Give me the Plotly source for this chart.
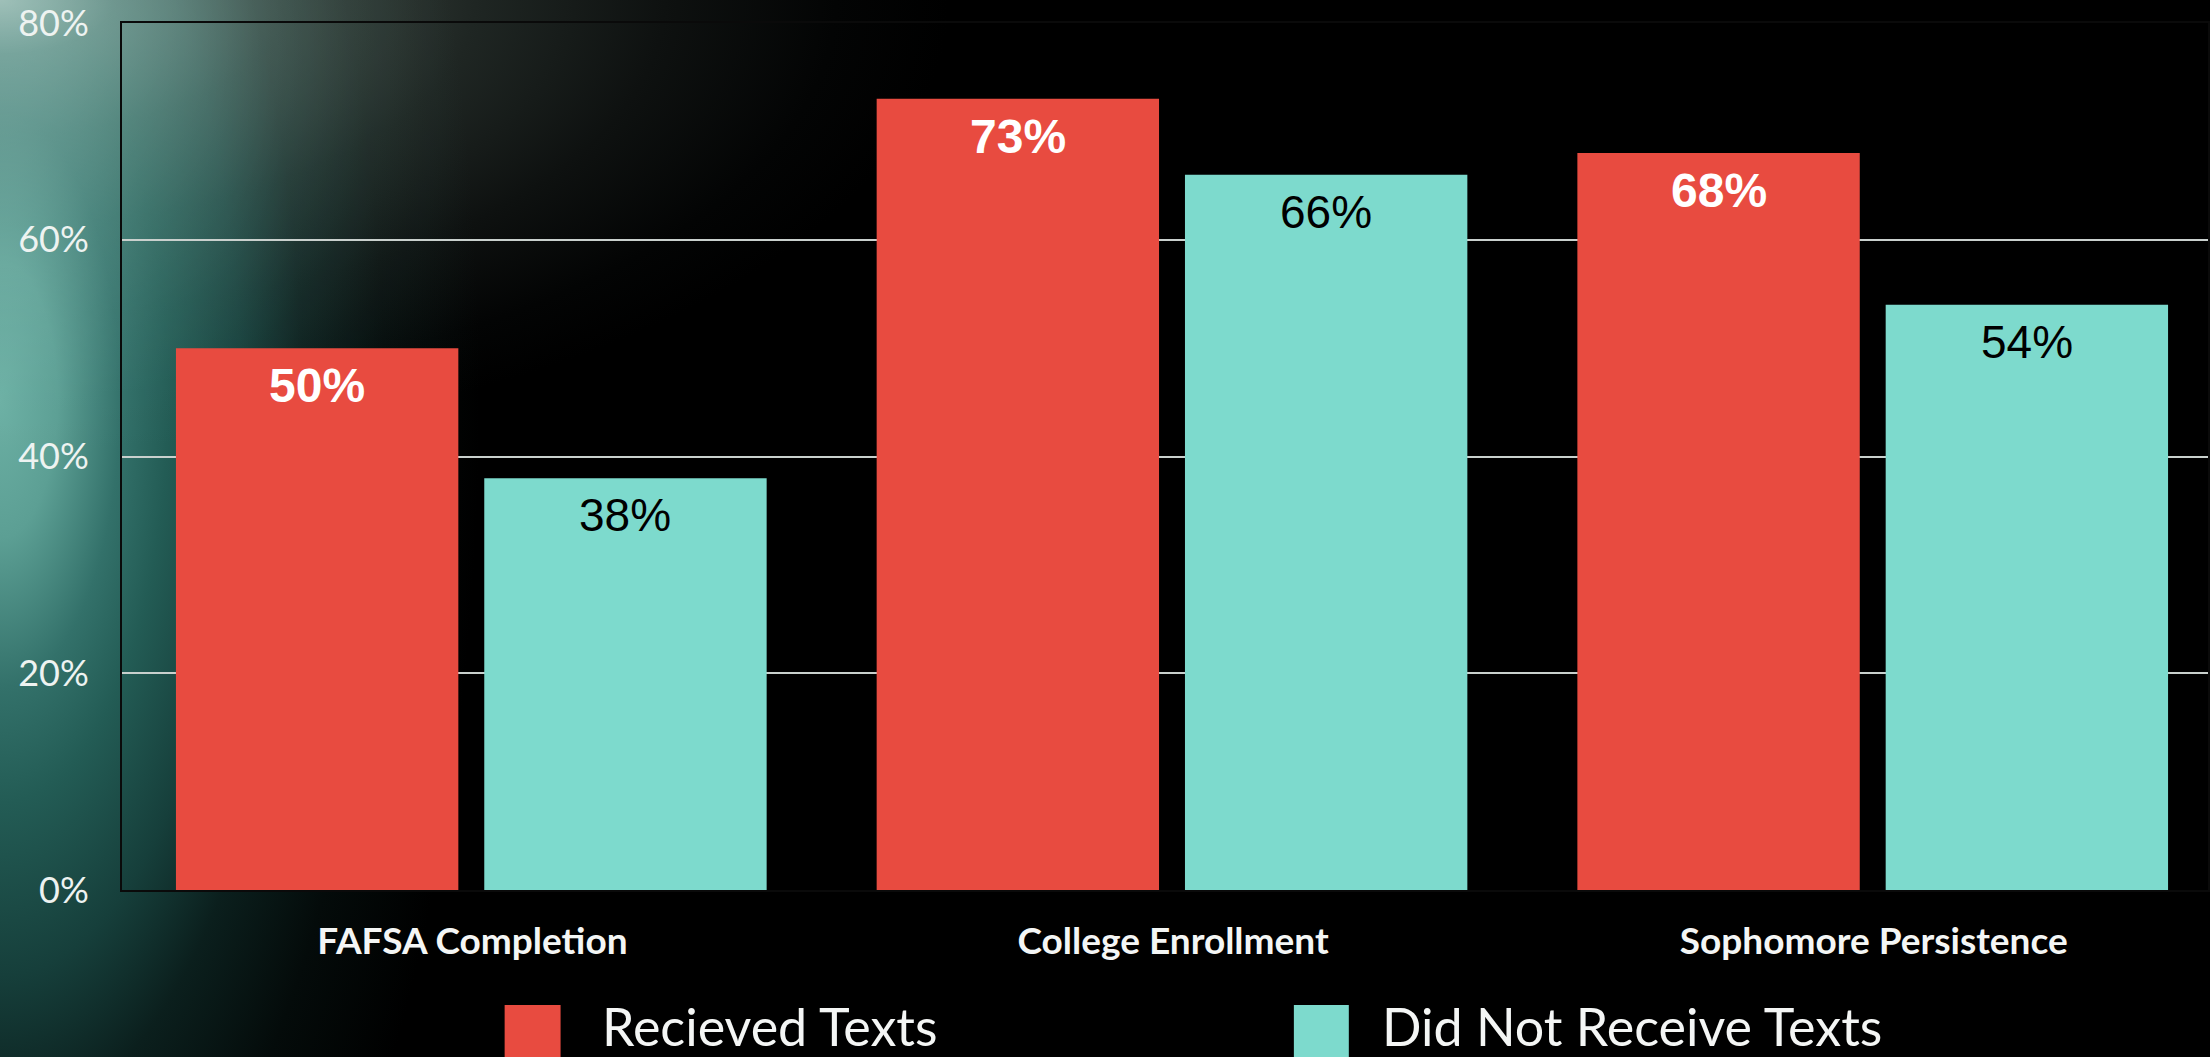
import base64
import plotly.graph_objects as go

# ---- data ----
categories = ["FAFSA Completion", "College Enrollment", "Sophomore Persistence"]
received = [50, 73, 68]
not_received = [38, 66, 54]
series_names = ["Recieved Texts", "Did Not Receive Texts"]
series_colors = ["#e84b40", "#7ddacd"]
y_ticks = [0, 20, 40, 60, 80]
y_tick_labels = ["0%", "20%", "40%", "60%", "80%"]

# ---- page geometry (pixels) ----
W, H = 2210, 1057
ML, MR, MT, MB = 122, 0, 23, 167
PW, PH = W - ML - MR, H - MT - MB
X_RANGE = [-0.5, 2.477]


def px_x(px):
    return (px - ML) / PW


def px_y(py):
    return (H - MB - py) / PH


# ---- backdrop: teal glow on the left edge, grey haze in the top-left corner ----
svg = f"""<svg xmlns='http://www.w3.org/2000/svg' width='{W}' height='{H}' viewBox='0 0 {W} {H}'>
<defs>
<radialGradient id='teal'>
<stop offset='0' stop-color='#6cb0a4'/>
<stop offset='0.12' stop-color='#5c9f94'/>
<stop offset='0.25' stop-color='#33716a'/>
<stop offset='0.35' stop-color='#235c55'/>
<stop offset='0.5' stop-color='#163f3b'/>
<stop offset='0.63' stop-color='#0b1f1d'/>
<stop offset='0.8' stop-color='#040b0a'/>
<stop offset='1' stop-color='#000000'/>
</radialGradient>
<radialGradient id='grey'>
<stop offset='0' stop-color='#8f9c95'/>
<stop offset='0.12' stop-color='#5c6862'/>
<stop offset='0.3' stop-color='#3a443f'/>
<stop offset='0.5' stop-color='#1f2623'/>
<stop offset='0.7' stop-color='#0e1110'/>
<stop offset='0.88' stop-color='#030404'/>
<stop offset='1' stop-color='#000000'/>
</radialGradient>
</defs>
<rect width='{W}' height='{H}' fill='#000000'/>
<ellipse cx='0' cy='400' rx='480' ry='1150' fill='url(#teal)'/>
<ellipse cx='0' cy='0' rx='950' ry='450' fill='url(#grey)' style='mix-blend-mode:screen'/>
</svg>"""
bg_uri = "data:image/svg+xml;base64," + base64.b64encode(svg.encode()).decode()

fig = go.Figure()

bar_width = 0.403
offsets = [-0.423, 0.017]
values = [received, not_received]
label_fonts = [
    dict(family="Liberation Sans, Arial, sans-serif", size=48, color="#ffffff", weight="bold"),
    dict(family="Liberation Sans, Arial, sans-serif", size=46, color="#000000"),
]

annotations = []
for name, color, vals, off, tf in zip(series_names, series_colors, values, offsets, label_fonts):
    fig.add_trace(go.Bar(
        x=categories, y=vals, name=name,
        marker=dict(color=color, line=dict(width=0)),
        width=bar_width, offset=off,
        showlegend=False, hoverinfo="skip",
    ))
    # value label near the top of each bar
    for i, v in enumerate(vals):
        annotations.append(dict(
            text=f"{v}%", xref="x", yref="y",
            x=i + off + bar_width / 2, y=v,
            xanchor="center", yanchor="top", yshift=-9,
            showarrow=False, font=tf,
        ))

# ---- legend drawn as swatches + labels ----
legend_items = [
    (505, 561, 600),
    (1295, 1350, 1381),
]
shapes = []
for (sx0, sx1, tx), name, color in zip(legend_items, series_names, series_colors):
    shapes.append(dict(
        type="rect", xref="paper", yref="paper",
        x0=px_x(sx0), x1=px_x(sx1), y0=px_y(1070), y1=px_y(1005),
        fillcolor=color, line=dict(width=0), layer="above",
    ))
    annotations.append(dict(
        text=name, xref="paper", yref="paper",
        x=px_x(tx), y=px_y(1059), xanchor="left", yanchor="bottom",
        showarrow=False,
        font=dict(family="Lato, sans-serif", size=52, color="#f4f6f5"),
    ))

fig.update_layout(
    width=W, height=H,
    margin=dict(l=ML, r=MR, t=MT, b=MB, pad=0),
    paper_bgcolor="#000000",
    plot_bgcolor="rgba(0,0,0,0)",
    barmode="overlay",
    showlegend=False,
    shapes=shapes,
    annotations=annotations,
    images=[dict(
        source=bg_uri, xref="paper", yref="paper",
        x=-ML / PW, y=1 + MT / PH, sizex=W / PW, sizey=H / PH,
        xanchor="left", yanchor="top", sizing="stretch", layer="below",
    )],
    xaxis=dict(
        type="category", range=X_RANGE,
        showgrid=False, zeroline=False,
        showline=True, linecolor="#0a0a0a", linewidth=2, mirror=True,
        ticks="", ticklabelstandoff=18,
        tickfont=dict(family="Lato, sans-serif", size=37, color="#f4f6f5", weight="bold"),
    ),
    yaxis=dict(
        range=[0, 80], tickvals=y_ticks, ticktext=y_tick_labels,
        showgrid=True, gridcolor="#c9d0cd", gridwidth=2,
        zeroline=False,
        showline=True, linecolor="#0a0a0a", linewidth=2, mirror=True,
        ticks="", ticklabelstandoff=24, ticklabeloverflow="allow",
        tickfont=dict(family="Lato, sans-serif", size=36, color="#eef3f1"),
    ),
)

fig.write_html("out.html")
